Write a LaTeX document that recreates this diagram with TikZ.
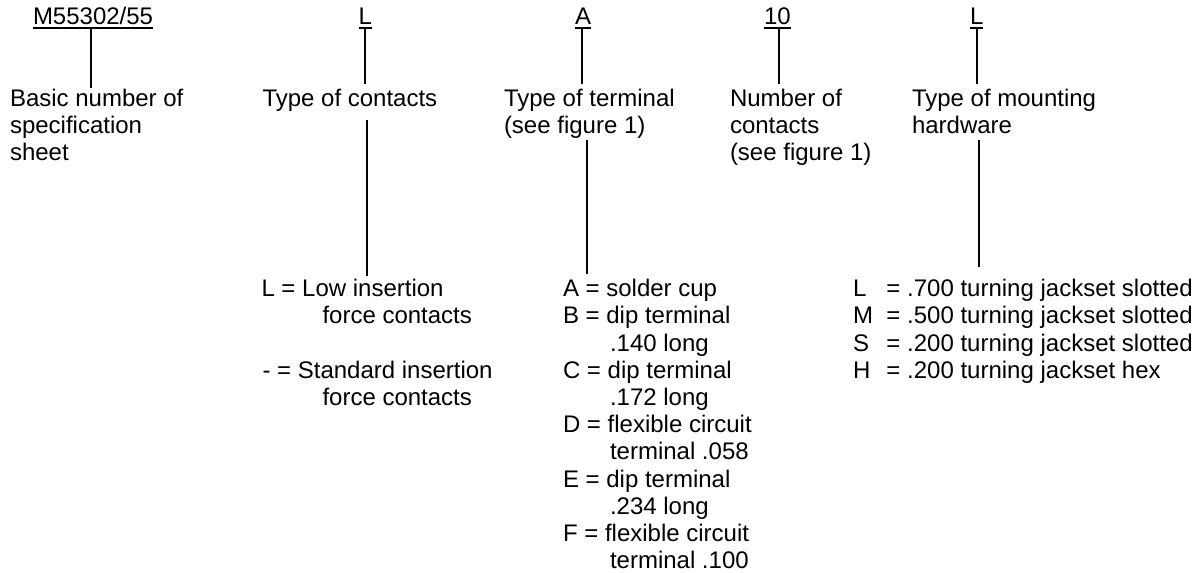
\documentclass[tikz,border=0pt]{standalone}
\usepackage{fontspec}
\setmainfont{Liberation Sans}
\begin{document}
\begin{tikzpicture}[x=1pt,y=1pt,
  txt/.style={anchor=base west,inner sep=0pt,outer sep=0pt,font=\fontsize{24}{27.2}\selectfont},
  conn/.style={line width=2pt,draw=black},
  ul/.style={line width=1.7pt,draw=black}]
\useasboundingbox (0,0) rectangle (1203,573);
% x positions of the leader lines
\coordinate (xM) at (91,0);
\coordinate (xL) at (365,0);
\coordinate (xL2) at (367,0);
\coordinate (xA) at (582,0);
\coordinate (xA2) at (587,0);
\coordinate (xN) at (779,0);
\coordinate (xH) at (977,0);
\coordinate (xH2) at (979,0);
% code fields
\node[txt] (cM) at (33,548) {M55302/55};
\node[txt] (cL) at (358.5,548) {L};
\node[txt] (cA) at (575,548) {A};
\node[txt] (cN) at (764,548) {10};
\node[txt] (cH) at (970,548) {L};
\foreach \n in {cM,cL,cA,cN,cH}
  \draw[ul] ([yshift=-3pt]\n.base west) -- ([yshift=-3pt]\n.base east);
% descriptions
\node[txt] (dM1) at (10,466.5) {Basic number of};
\node[txt] (dM2) at (10,439.5) {specification};
\node[txt] (dM3) at (10,412.5) {sheet};
\node[txt] (dL1) at (262.5,466.5) {Type of contacts};
\node[txt] (dA1) at (504,466.5) {Type of terminal};
\node[txt] (dA2) at (504,439.5) {(see figure 1)};
\node[txt] (dN1) at (730,466.5) {Number of};
\node[txt] (dN2) at (730,439.5) {contacts};
\node[txt] (dN3) at (730,412.5) {(see figure 1)};
\node[txt] (dH1) at (912,466.5) {Type of mounting};
\node[txt] (dH2) at (912,439.5) {hardware};
% values: contacts
\node[txt] (vL1) at (261.5,276.3) {L = Low insertion};
\node[txt] (vL2) at (322.5,249.1) {force contacts};
\node[txt] (vL3) at (262.5,194.7) {- = Standard insertion};
\node[txt] (vL4) at (322.5,167.5) {force contacts};
% values: terminal
\node[txt] (vA1) at (563,276.3) {A = solder cup};
\node[txt] (vA2) at (563,249.1) {B = dip terminal};
\node[txt] (vA3) at (610,221.9) {.140 long};
\node[txt] (vA4) at (563,194.7) {C = dip terminal};
\node[txt] (vA5) at (610,167.5) {.172 long};
\node[txt] (vA6) at (563,140.3) {D = flexible circuit};
\node[txt] (vA7) at (610,113.1) {terminal .058};
\node[txt] (vA8) at (563,85.9) {E = dip terminal};
\node[txt] (vA9) at (610,58.7) {.234 long};
\node[txt] (vA10) at (563,31.5) {F = flexible circuit};
\node[txt] (vA11) at (610,4.3) {terminal .100};
% values: hardware
\node[txt] (vH1) at (853,276.3) {\makebox[33.5pt][l]{L}= .700 turning jackset slotted};
\node[txt] (vH2) at (853,249.1) {\makebox[33.5pt][l]{M}= .500 turning jackset slotted};
\node[txt] (vH3) at (853,221.9) {\makebox[33.5pt][l]{S}= .200 turning jackset slotted};
\node[txt] (vH4) at (853,194.7) {\makebox[33.5pt][l]{H}= .200 turning jackset hex};
% leader lines
\draw[conn,shorten <=3pt,shorten >=1pt] (xM |- cM.base) -- (xM |- dM1.north);
\draw[conn,shorten <=3pt,shorten >=5pt] (xL |- cL.base) -- (xL |- dL1.north);
\draw[conn,shorten <=3pt,shorten >=5pt] (xA |- cA.base) -- (xA |- dA1.north);
\draw[conn,shorten <=3pt,shorten >=5pt] (xN |- cN.base) -- (xN |- dN1.north);
\draw[conn,shorten <=3pt,shorten >=5pt] (xH |- cH.base) -- (xH |- dH1.north);
\draw[conn,shorten <=8.5pt,shorten >=3.4pt] (xL2 |- dL1.south) -- (xL2 |- vL1.north);
\draw[conn,shorten <=1.5pt,shorten >=5.4pt] (xA2 |- dA2.south) -- (xA2 |- vA1.north);
\draw[conn,shorten <=6.5pt,shorten >=12pt] (xH2 |- dH2.south) -- (xH2 |- vH1.north);
\end{tikzpicture}
\end{document}
